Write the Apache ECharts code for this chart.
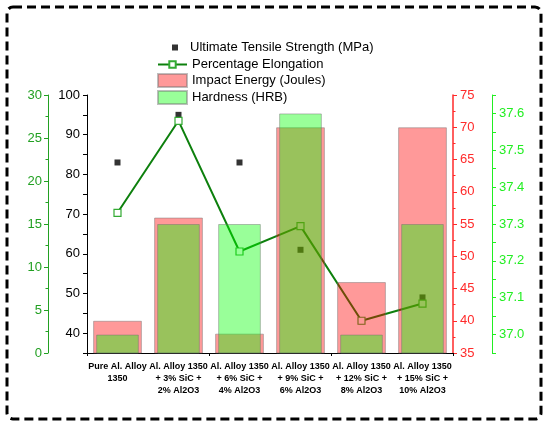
<!DOCTYPE html>
<html>
<head>
<meta charset="utf-8">
<script src="https://cdn.jsdelivr.net/npm/echarts@6/dist/echarts.min.js"></script>
<style>
html,body{margin:0;padding:0;background:#fff;}
#chart{width:550px;height:426px;}
</style>
</head>
<body>
<div id="chart"></div>
<script>
// ---- data ----
var categories = [
  'Pure Al. Alloy\n1350',
  'Al. Alloy 1350\n+ 3% SiC +\n2% Al2O3',
  'Al. Alloy 1350\n+ 6% SiC +\n4% Al2O3',
  'Al. Alloy 1350\n+ 9% SiC +\n6% Al2O3',
  'Al. Alloy 1350\n+ 12% SiC +\n8% Al2O3',
  'Al. Alloy 1350\n+ 15% SiC +\n10% Al2O3'
];
var utsValues = [83, 95, 83, 61, 43, 49];
var elongationValues = [16.3, 27.0, 11.8, 14.75, 3.75, 5.75];
var impactValues = [40, 56, 38, 70, 46, 70];
var hardnessValues = [37.0, 37.3, 37.3, 37.6, 37.0, 37.3];

var nameUTS = 'Ultimate Tensile Strength (MPa)';
var nameEl = 'Percentage Elongation';
var nameImp = 'Impact Energy (Joules)';
var nameHard = 'Hardness (HRB)';

var FONT = 'Liberation Sans, Arial, sans-serif';
var chart = echarts.init(document.getElementById('chart'), null, {renderer: 'canvas'});

var legendText = {fontSize: 13, color: '#000', fontFamily: FONT, lineHeight: 13};

var option = {
  animation: false,
  backgroundColor: '#fff',
  textStyle: {fontFamily: FONT},
  grid: {left: 87, right: 97, top: 95, bottom: 73, containLabel: false},
  graphic: [{
    type: 'rect',
    shape: {x: 7, y: 7, width: 534, height: 412, r: 6},
    style: {fill: 'none', stroke: '#000', lineWidth: 3, lineDash: [9, 5]},
    silent: true, z: 100
  }],
  legend: [{
    data: [{name: nameUTS, icon: 'rect'}],
    left: 172, top: 41, padding: 0,
    itemWidth: 6, itemHeight: 6,
    textStyle: Object.assign({}, legendText, {padding: [0, 0, 0, 7]})
  }, {
    data: [nameEl],
    left: 157, top: 58, padding: 0,
    itemWidth: 29, itemHeight: 8,
    textStyle: legendText
  }, {
    data: [{name: nameImp, icon: 'rect'}, {name: nameHard, icon: 'rect'}],
    orient: 'vertical',
    left: 157, top: 73, padding: 0,
    itemWidth: 29, itemHeight: 13, itemGap: 2,
    textStyle: legendText
  }],
  xAxis: [{
    type: 'category',
    data: categories,
    position: 'bottom',
    axisLine: {lineStyle: {color: '#000', width: 1}},
    axisTick: {alignWithLabel: true, length: 5, lineStyle: {color: '#000'}},
    axisLabel: {interval: 0, fontSize: 9, fontWeight: 'bold', color: '#000', lineHeight: 12, margin: 8, fontFamily: FONT},
    splitLine: {show: false}
  }, {
    type: 'category',
    data: categories,
    position: 'bottom',
    axisLine: {show: false},
    axisTick: {show: true, length: 3, lineStyle: {color: '#000'}},
    axisLabel: {show: false},
    splitLine: {show: false}
  }],
  yAxis: [{
    type: 'value', position: 'left', offset: 0,
    min: 35, max: 100, interval: 5,
    axisLine: {show: true, lineStyle: {color: '#000', width: 1}},
    axisTick: {show: true, length: 4, lineStyle: {color: '#000'}},
    axisLabel: {fontSize: 13, color: '#000', margin: 7, fontFamily: FONT,
      formatter: function (v) { return Math.round(v) % 10 === 0 ? String(Math.round(v)) : ''; }},
    splitLine: {show: false}
  }, {
    type: 'value', position: 'left', offset: 39,
    min: 0, max: 30, interval: 5,
    axisLine: {show: true, lineStyle: {color: '#22a022', width: 1}},
    axisTick: {show: true, length: 4, lineStyle: {color: '#22a022'}},
    minorTick: {show: true, splitNumber: 2, length: 2.5, lineStyle: {color: '#22a022'}},
    axisLabel: {fontSize: 13, color: '#22a022', margin: 6, fontFamily: FONT},
    splitLine: {show: false}
  }, {
    type: 'value', position: 'right', offset: 0,
    min: 35, max: 75, interval: 5,
    axisLine: {show: true, lineStyle: {color: '#ff2a2a', width: 1.5}},
    axisTick: {show: true, length: 4, lineStyle: {color: '#ff2a2a'}},
    minorTick: {show: true, splitNumber: 2, length: 2.5, lineStyle: {color: '#ff2a2a'}},
    axisLabel: {fontSize: 13, color: '#ff2a2a', margin: 7, fontFamily: FONT},
    splitLine: {show: false}
  }, {
    type: 'value', position: 'right', offset: 39,
    min: 36.95, max: 37.65, interval: 0.05,
    axisLine: {show: true, lineStyle: {color: '#22ee22', width: 1}},
    axisTick: {show: true, length: 4, lineStyle: {color: '#22ee22'}},
    axisLabel: {fontSize: 13, color: '#22ee22', margin: 7, fontFamily: FONT,
      formatter: function (v) { var k = Math.round(v * 100); return k % 10 === 0 ? (k / 100).toFixed(1) : ''; }},
    splitLine: {show: false}
  }],
  series: [{
    name: nameUTS, type: 'scatter',
    xAxisIndex: 0, yAxisIndex: 0,
    data: utsValues,
    symbol: 'rect', symbolSize: 6,
    itemStyle: {color: '#000'},
    z: 2
  }, {
    name: nameEl, type: 'line',
    xAxisIndex: 0, yAxisIndex: 1,
    data: elongationValues,
    symbol: 'rect', symbolSize: 7,
    showAllSymbol: true,
    lineStyle: {color: '#0d800d', width: 2},
    itemStyle: {color: '#ffffff', borderColor: '#33aa33', borderWidth: 1.2},
    z: 3
  }, {
    name: nameImp, type: 'bar',
    xAxisIndex: 0, yAxisIndex: 2,
    data: impactValues,
    barWidth: '80%',
    itemStyle: {color: 'rgba(255,0,0,0.4)', borderColor: 'rgba(110,110,110,0.45)', borderWidth: 1},
    z: 4
  }, {
    name: nameHard, type: 'bar',
    xAxisIndex: 1, yAxisIndex: 3,
    data: hardnessValues,
    barWidth: '70%',
    itemStyle: {color: 'rgba(0,255,0,0.4)', borderColor: 'rgba(110,110,110,0.45)', borderWidth: 1},
    z: 5
  }]
};
chart.setOption(option);
</script>
</body>
</html>
